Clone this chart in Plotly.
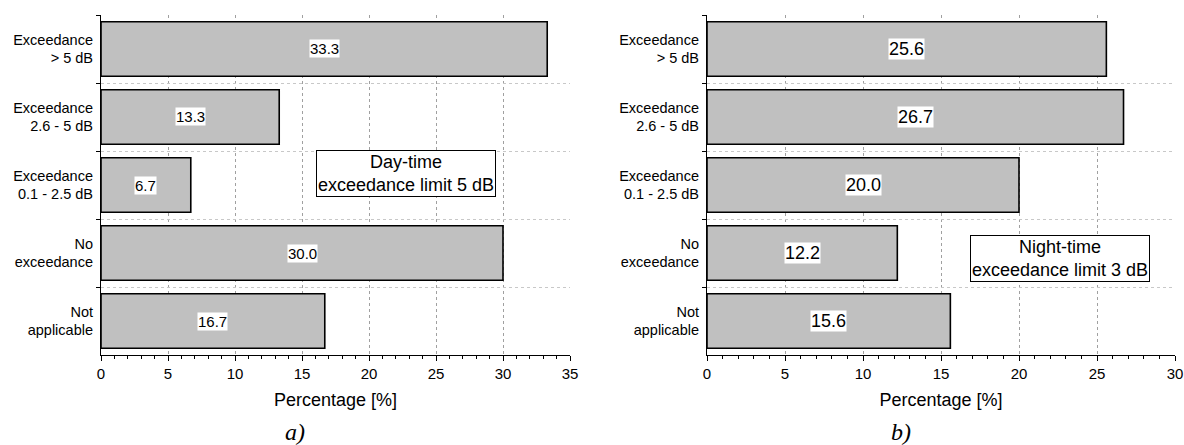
import plotly.graph_objects as go

categories = ["Exceedance<br>> 5 dB", "Exceedance<br>2.6 - 5 dB", "Exceedance<br>0.1 - 2.5 dB",
              "No<br>exceedance", "Not<br>applicable"]
day_values = [33.3, 13.3, 6.7, 30.0, 16.7]
night_values = [25.6, 26.7, 20.0, 12.2, 15.6]
day_labels = ["33.3", "13.3", "6.7", "30.0", "16.7"]
night_labels = ["25.6", "26.7", "20.0", "12.2", "15.6"]
day_note = "Day-time<br>exceedance limit 5 dB"
night_note = "Night-time<br>exceedance limit 3 dB"
x_title = "Percentage [%]"
captions = ["<i>a)</i>", "<i>b)</i>"]

W, H = 1184, 445
FONT = "Liberation Sans, Arial, sans-serif"
SERIF = "Liberation Serif, Times New Roman, serif"


def xp(px):
    return px / W


def yp(py):
    return 1 - py / H


fig = go.Figure()
bar_style = dict(orientation="h", width=0.8, marker=dict(color="#c0c0c0", line=dict(color="black", width=1.6)),
                 showlegend=False, hoverinfo="x+y")
fig.add_trace(go.Bar(x=day_values, y=categories, xaxis="x", yaxis="y", **bar_style))
fig.add_trace(go.Bar(x=night_values, y=categories, xaxis="x2", yaxis="y2", **bar_style))

ydom = [yp(355), yp(15)]
xdom1 = [xp(101), xp(570)]
xdom2 = [xp(707), xp(1175)]

xcommon = dict(showline=True, linecolor="black", linewidth=1.2, ticks="outside", ticklen=5, tickcolor="black",
               dtick=5, showgrid=True, gridcolor="#a0a0a0", griddash="dot", gridwidth=1, zeroline=False,
               automargin=False,
               tickfont=dict(size=15, color="black"),
               title=dict(text=x_title, font=dict(size=18, color="black"), standoff=12),
               minor=dict(dtick=1, ticks="outside", ticklen=3, tickcolor="black", showgrid=False))
ycommon = dict(type="category", autorange="reversed", showline=True, linecolor="black", linewidth=1.2,
               ticks="outside", ticklen=4, tickcolor="black", tickson="boundaries", showgrid=True,
               gridcolor="#c8c8c8", griddash="dot", gridwidth=1, tickfont=dict(size=14.5, color="black"),
               ticklabelstandoff=4,
               domain=ydom, zeroline=False, automargin=False)

fig.update_layout(
    width=W, height=H, margin=dict(l=0, r=0, t=0, b=0, autoexpand=False),
    paper_bgcolor="white", plot_bgcolor="white",
    font=dict(family=FONT, color="black"),
    xaxis=dict(domain=xdom1, range=[0, 35], anchor="y", **xcommon),
    yaxis=dict(anchor="x", **ycommon),
    xaxis2=dict(domain=xdom2, range=[0, 30], anchor="y2", **xcommon),
    yaxis2=dict(anchor="x2", **ycommon),
)

anns = []
for v, lab, c in zip(day_values, day_labels, categories):
    anns.append(dict(x=v / 2, y=c, xref="x", yref="y", text=lab, showarrow=False, bgcolor="white",
                     borderpad=0, xanchor="center", yanchor="middle", font=dict(size=15, color="black")))
for v, lab, c in zip(night_values, night_labels, categories):
    anns.append(dict(x=v / 2, y=c, xref="x2", yref="y2", text=lab, showarrow=False, bgcolor="white",
                     borderpad=0, xanchor="center", yanchor="middle", font=dict(size=18, color="black")))
box = dict(showarrow=False, bgcolor="white", bordercolor="black", borderwidth=1, borderpad=1,
           xanchor="center", yanchor="middle", font=dict(size=18, color="black"), align="center")
anns.append(dict(x=(406 - 101) / 469, y=(355 - 173.5) / 340, xref="x domain", yref="y domain",
                 text=day_note, **box))
anns.append(dict(x=(1059.5 - 707) / 468, y=(355 - 258.5) / 340, xref="x2 domain", yref="y2 domain",
                 text=night_note, **box))
cap = dict(xref="paper", yref="paper", showarrow=False, xanchor="center", yanchor="middle",
           font=dict(family=SERIF, size=24, color="black"))
anns.append(dict(x=xp(295), y=yp(432), text=captions[0], **cap))
anns.append(dict(x=xp(901), y=yp(432), text=captions[1], **cap))
fig.update_layout(annotations=anns)

fig.write_html("out.html", config={"displayModeBar": False},
               post_script="document.body.style.margin='0';document.body.style.overflow='hidden';")
